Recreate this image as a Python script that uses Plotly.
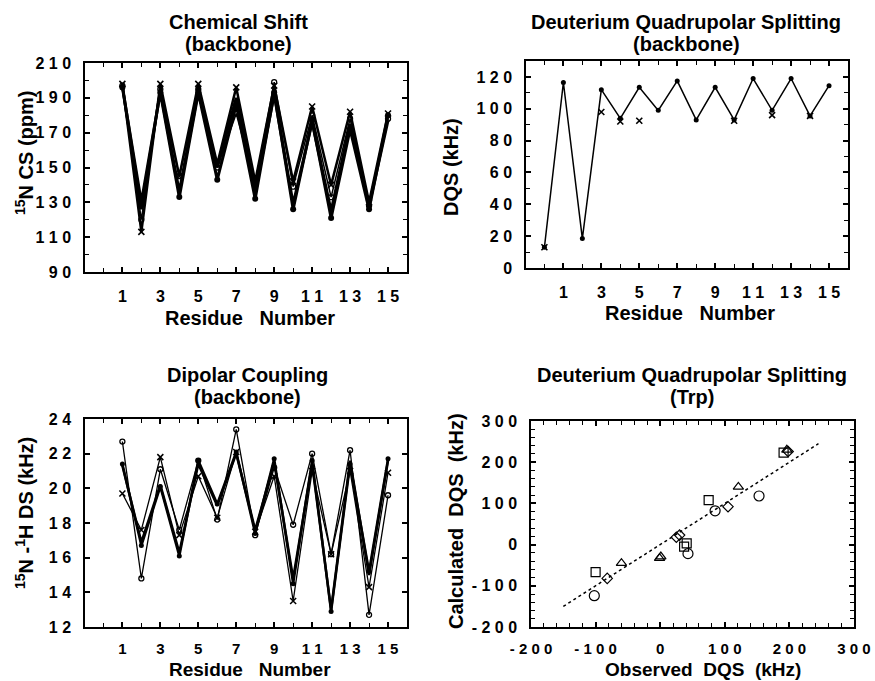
import plotly.graph_objects as go

# ---------------- data ----------------
residues = list(range(1, 16))

# Panel 1: 15N chemical shift (ppm)
cs_x_series = [198, 113, 198, 145, 198, 152, 196, 142, 197, 142, 185, 140, 182, 130, 181]
cs_circle_series = [197, 120, 195, 145, 195, 150, 181, 140, 199, 139, 180, 133, 178, 128, 178]
cs_dot_series = [196, 130, 193, 133, 193, 143, 186, 132, 193, 126, 177, 121, 172, 126, 180]
cs_band_series = [197, 126, 194, 136, 194, 150, 190, 136, 192, 129, 176, 125, 175, 128, 177]

# Panel 2: deuterium quadrupolar splitting, backbone (kHz)
dqs_residues = list(range(0, 16))
dqs_dot_series = [13, 116.5, 18.5, 112, 94, 113.5, 99, 117.5, 93, 113.5, 93, 119, 99, 119, 95.5, 114.5]
dqs_x_residues = [0, 3, 4, 5, 10, 12, 14]
dqs_x_series = [13, 98, 92, 92.5, 92.5, 96, 95.5]

# Panel 3: 15N-1H dipolar coupling (kHz)
dc_circle_series = [22.7, 14.8, 21.1, 17.6, 21.6, 18.2, 23.4, 17.3, 21.2, 17.9, 22.0, 16.2, 22.2, 12.7, 19.6]
dc_x_series = [19.7, 17.6, 21.8, 17.3, 20.7, 18.3, 22.1, 17.5, 20.7, 13.5, 21.0, 16.2, 21.0, 14.3, 20.9]
dc_dot_series = [21.4, 16.7, 20.1, 16.1, 21.6, 19.1, 22.1, 17.4, 21.7, 14.5, 21.6, 12.9, 21.4, 15.2, 21.7]
dc_band_series = [21.3, 16.9, 20.2, 16.3, 21.4, 19.0, 22.0, 17.6, 21.5, 14.8, 21.4, 13.0, 21.6, 15.0, 21.6]

# Panel 4: Trp DQS, observed vs calculated (kHz)
trp_circle_obs = [-102, 43, 85, 153]
trp_circle_calc = [-124, -22, 82, 118]
trp_square_obs = [-100, 37, 41, 75, 191]
trp_square_calc = [-67, -5, 3, 108, 223]
trp_diamond_obs = [-82, 25, 30, 105, 198]
trp_diamond_calc = [-82, 18, 23, 92, 226]
trp_triangle_obs = [-60, 1, -1, 121, 196]
trp_triangle_calc = [-45, -29, -33, 140, 230]
fit_line_x = [-150, 245]
fit_line_y = [-150, 245]

# ---------------- figure ----------------
W, H = 875, 681
FONT = "Liberation Sans"
fig = go.Figure()


def px_x(p):
    return p / W


def px_y(p):
    return 1 - p / H


def spaced(v):
    return " ".join(str(v))


# panel 1 traces
fig.add_trace(go.Scatter(x=residues, y=cs_band_series, mode="lines", line=dict(color="black", width=3),
                         xaxis="x", yaxis="y", showlegend=False))
fig.add_trace(go.Scatter(x=residues, y=cs_dot_series, mode="lines+markers", line=dict(color="black", width=3),
                         marker=dict(symbol="circle", size=6, color="black"), xaxis="x", yaxis="y", showlegend=False))
fig.add_trace(go.Scatter(x=residues, y=cs_circle_series, mode="lines+markers", line=dict(color="black", width=1.5),
                         marker=dict(symbol="circle-open", size=5, color="black", line=dict(width=1.3)),
                         xaxis="x", yaxis="y", showlegend=False))
fig.add_trace(go.Scatter(x=residues, y=cs_x_series, mode="lines+markers", line=dict(color="black", width=2.5),
                         marker=dict(symbol="x-thin", size=6, color="black", line=dict(width=1.6, color="black")),
                         xaxis="x", yaxis="y", showlegend=False))

# panel 2 traces
fig.add_trace(go.Scatter(x=dqs_residues, y=dqs_dot_series, mode="lines+markers", line=dict(color="black", width=1.5),
                         marker=dict(symbol="circle", size=5, color="black"), xaxis="x2", yaxis="y2", showlegend=False))
fig.add_trace(go.Scatter(x=dqs_x_residues, y=dqs_x_series, mode="markers",
                         marker=dict(symbol="x-thin", size=6, color="black", line=dict(width=1.6, color="black")),
                         xaxis="x2", yaxis="y2", showlegend=False))

# panel 3 traces
fig.add_trace(go.Scatter(x=residues, y=dc_band_series, mode="lines", line=dict(color="black", width=2.5),
                         xaxis="x3", yaxis="y3", showlegend=False))
fig.add_trace(go.Scatter(x=residues, y=dc_dot_series, mode="lines+markers", line=dict(color="black", width=2.5),
                         marker=dict(symbol="circle", size=5, color="black"), xaxis="x3", yaxis="y3", showlegend=False))
fig.add_trace(go.Scatter(x=residues, y=dc_x_series, mode="lines+markers", line=dict(color="black", width=1.3),
                         marker=dict(symbol="x-thin", size=6, color="black", line=dict(width=1.5, color="black")),
                         xaxis="x3", yaxis="y3", showlegend=False))
fig.add_trace(go.Scatter(x=residues, y=dc_circle_series, mode="lines+markers", line=dict(color="black", width=1.3),
                         marker=dict(symbol="circle-open", size=5, color="black", line=dict(width=1.3)),
                         xaxis="x3", yaxis="y3", showlegend=False))

# panel 4 traces
fig.add_trace(go.Scatter(x=fit_line_x, y=fit_line_y, mode="lines", line=dict(color="black", width=1.5, dash="dot"),
                         xaxis="x4", yaxis="y4", showlegend=False))
open_marker = dict(color="black", line=dict(width=1.2, color="black"))
fig.add_trace(go.Scatter(x=trp_circle_obs, y=trp_circle_calc, mode="markers",
                         marker=dict(symbol="circle-open", size=10, **open_marker), xaxis="x4", yaxis="y4", showlegend=False))
fig.add_trace(go.Scatter(x=trp_square_obs, y=trp_square_calc, mode="markers",
                         marker=dict(symbol="square-open", size=9, **open_marker), xaxis="x4", yaxis="y4", showlegend=False))
fig.add_trace(go.Scatter(x=trp_diamond_obs, y=trp_diamond_calc, mode="markers",
                         marker=dict(symbol="diamond-open", size=8, **open_marker), xaxis="x4", yaxis="y4", showlegend=False))
fig.add_trace(go.Scatter(x=trp_triangle_obs, y=trp_triangle_calc, mode="markers",
                         marker=dict(symbol="triangle-up-open", size=9, **open_marker), xaxis="x4", yaxis="y4", showlegend=False))

# ---------------- axes ----------------
def axis(domain, rng, tick0, dtick, labels, minor_dtick=None, anchor=None, standoff=9, fsize=16):
    alias = {}
    for v in labels:
        alias[str(v)] = spaced(v)
        alias[str(v).replace("-", "\u2212")] = spaced(v)
    d = dict(domain=domain, range=rng, tickmode="linear", tick0=tick0, dtick=dtick, labelalias=alias,
             showline=True, linecolor="black", linewidth=1.5, mirror="ticks", ticks="inside", ticklen=5,
             tickwidth=1.5, tickcolor="black", showgrid=False, zeroline=False,
             tickfont=dict(family=FONT, size=fsize, color="black", weight="bold"),
             anchor=anchor, ticklabelstandoff=standoff, automargin=False)
    if minor_dtick:
        d["minor"] = dict(dtick=minor_dtick, tick0=tick0, ticks="inside", ticklen=4, tickwidth=1.2,
                          tickcolor="black", showgrid=False)
    return d


res_labels = [1, 3, 5, 7, 9, 11, 13, 15]
xd1 = [px_x(85), px_x(407)]
xd2 = [px_x(526), px_x(848)]
xd4 = [px_x(531), px_x(854)]
yd1 = [px_y(272), px_y(63)]
yd2 = [px_y(268), px_y(61)]
yd3 = [px_y(627), px_y(419)]
yd4 = [px_y(627), px_y(421)]

fig.update_layout(
    xaxis=axis(xd1, [-0.97, 16], 1, 2, res_labels, 1, "y"),
    yaxis=axis(yd1, [90, 210], 90, 20, [90, 110, 130, 150, 170, 190, 210], 10, "x"),
    xaxis2=axis(xd2, [-0.97, 16], 1, 2, res_labels, 1, "y2"),
    yaxis2=axis(yd2, [0, 130], 0, 20, [0, 20, 40, 60, 80, 100, 120], 10, "x2"),
    xaxis3=axis(xd1, [-0.97, 16], 1, 2, res_labels, 1, "y3", standoff=7, fsize=15),
    yaxis3=axis(yd3, [12, 24], 12, 2, [12, 14, 16, 18, 20, 22, 24], None, "x3"),
    xaxis4=axis(xd4, [-200, 300], -200, 100, [-200, -100, 0, 100, 200, 300], 20, "y4", standoff=7, fsize=15),
    yaxis4=axis(yd4, [-200, 300], -200, 100, [-200, -100, 0, 100, 200, 300], 20, "x4"),
)

# ---------------- text ----------------
def label(text, x, y, angle=0, size=20):
    fig.add_annotation(text=text, x=px_x(x), y=px_y(y), xref="paper", yref="paper", showarrow=False,
                       textangle=angle, xanchor="center", yanchor="middle",
                       font=dict(family=FONT, size=size, color="black", weight="bold"))


sp = "\u00a0"
label("Chemical Shift", 238, 22)
label("(backbone)", 238, 44)
label("Deuterium Quadrupolar Splitting", 686, 22)
label("(backbone)", 686, 44)
label("Dipolar Coupling", 247, 375)
label("(backbone)", 247, 397)
label("Deuterium Quadrupolar Splitting", 692, 375)
label("(Trp)", 692, 397)

label("Residue" + sp * 3 + "Number", 250, 318)
label("Residue" + sp * 3 + "Number", 690, 313)
label("Residue" + sp * 3 + "Number", 250, 669, size=19)
label("Observed" + sp * 2 + "DQS" + sp * 2 + "(kHz)", 703, 669, size=19)

label("<sup>15</sup>N CS (ppm)", 25, 153, -90)
label("DQS (kHz)", 451, 167, -90)
label("<sup>15</sup>N -<sup>1</sup>H DS (kHz)", 24, 513, -90)
label("Calculated" + sp * 2 + "DQS" + sp * 2 + "(kHz)", 456, 521, -90)

fig.update_layout(width=W, height=H, margin=dict(l=0, r=0, t=0, b=0), paper_bgcolor="white",
                  plot_bgcolor="white", showlegend=False)

fig.write_html("out.html", config={"displayModeBar": False},
               post_script="document.body.style.margin='0';document.body.style.overflow='hidden';")
